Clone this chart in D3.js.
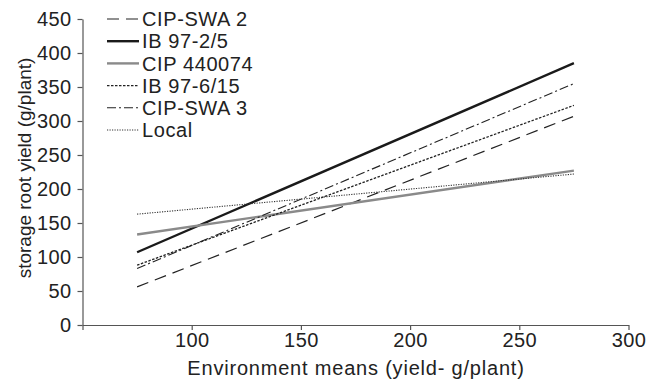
<!DOCTYPE html>
<html>
<head>
<meta charset="utf-8">
<script src="https://cdn.jsdelivr.net/npm/d3@7"></script>
<style>
  body { margin: 0; background: #fff; }
  svg text { font-family: "Liberation Sans", Arial, sans-serif; fill: #222; }
</style>
</head>
<body>
<svg id="chart" width="647" height="387"></svg>
<script>
// data: each genotype's regression line end points
const envMeans = [75, 275];
const cipSwa2 = [56, 307];
const ib97_2_5 = [107, 385];
const cip440074 = [133, 227];
const ib97_6_15 = [88, 323];
const cipSwa3 = [83, 355];
const local = [163, 222];

const seriesNames = ['CIP-SWA 2', 'IB 97-2/5', 'CIP 440074', 'IB 97-6/15', 'CIP-SWA 3', 'Local'];
const seriesValues = [cipSwa2, ib97_2_5, cip440074, ib97_6_15, cipSwa3, local];
const xTicks = [50, 100, 150, 200, 250, 300];
const yTicks = [0, 50, 100, 150, 200, 250, 300, 350, 400, 450];

const styles = [
  { color: '#222', width: 1.2, dash: '12,7' },
  { color: '#1a1a1a', width: 2.4, dash: null },
  { color: '#8a8a8a', width: 2.4, dash: null },
  { color: '#222', width: 1.3, dash: '2.5,1.5' },
  { color: '#222', width: 1.1, dash: '9,3,2,3' },
  { color: '#333', width: 1.1, dash: '1.2,1.3' },
];

const svg = d3.select('#chart');
const plotLeft = 82.5, plotRight = 628.5, plotTop = 19, plotBottom = 325;

const x = d3.scaleLinear().domain([50, 300]).range([plotLeft, plotRight]);
const y = d3.scaleLinear().domain([0, 450]).range([plotBottom, plotTop]);

// axes
const xAxis = svg.append('g')
  .attr('transform', 'translate(0,' + plotBottom + ')')
  .call(d3.axisBottom(x).tickValues(xTicks).tickSize(5).tickSizeOuter(0)
    .tickFormat((d) => (d === 50 ? '' : d)));
const yAxis = svg.append('g')
  .attr('transform', 'translate(' + plotLeft + ',0)')
  .call(d3.axisLeft(y).tickValues(yTicks).tickSize(5).tickSizeOuter(0));

[xAxis, yAxis].forEach((g) => {
  g.select('.domain').attr('stroke', '#555').attr('stroke-width', 1.2);
  g.selectAll('.tick line').attr('stroke', '#555').attr('stroke-width', 1.2);
  g.selectAll('.tick text')
    .style('font-size', '20px')
    .style('letter-spacing', '0.4px')
    .attr('fill', '#222');
});
yAxis.selectAll('.tick text').attr('x', -11);

// axis titles
svg.append('text')
  .attr('x', 356).attr('y', 375)
  .attr('text-anchor', 'middle')
  .style('font-size', '20px')
  .style('letter-spacing', '0.8px')
  .text('Environment means (yield- g/plant)');
svg.append('text')
  .attr('transform', 'translate(31,168) rotate(-90)')
  .attr('text-anchor', 'middle')
  .style('font-size', '19px')
  .text('storage root yield (g/plant)');

// lines
const line = d3.line()
  .x((d) => x(d[0]))
  .y((d) => y(d[1]));

seriesValues.forEach((vals, i) => {
  const pts = envMeans.map((e, j) => [e, vals[j]]);
  const s = styles[i];
  svg.append('path')
    .datum(pts)
    .attr('d', line)
    .attr('fill', 'none')
    .attr('stroke', s.color)
    .attr('stroke-width', s.width)
    .attr('stroke-dasharray', s.dash);
});

// legend
const legend = svg.append('g');
seriesNames.forEach((name, i) => {
  const s = styles[i];
  const ly = 19 + i * 22.2;
  legend.append('line')
    .attr('x1', 107).attr('x2', 139)
    .attr('y1', ly).attr('y2', ly)
    .attr('stroke', s.color)
    .attr('stroke-width', s.width)
    .attr('stroke-dasharray', s.dash);
  legend.append('text')
    .attr('x', 142).attr('y', ly)
    .attr('dy', '0.36em')
    .style('font-size', '20px')
    .style('letter-spacing', '0.6px')
    .text(name);
});
</script>
</body>
</html>
